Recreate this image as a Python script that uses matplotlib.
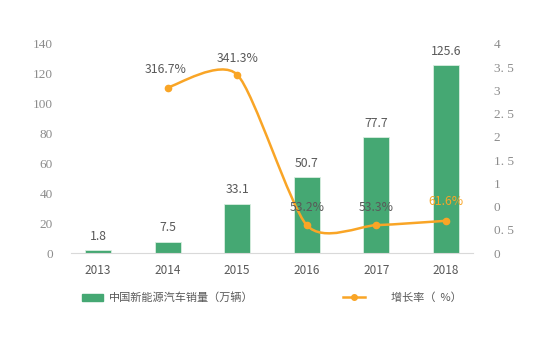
import numpy as np
import matplotlib.pyplot as plt
from matplotlib.path import Path
from matplotlib.patches import PathPatch, Patch
from matplotlib.lines import Line2D

plt.rcParams['font.family'] = ['Noto Sans CJK SC', 'DejaVu Sans']

years = ['2013', '2014', '2015', '2016', '2017', '2018']
sales = [1.8, 7.5, 33.1, 50.7, 77.7, 125.6]
rate_years = [1, 2, 3, 4, 5]
rate = [3.167, 3.413, 0.532, 0.533, 0.616]
rate_labels = ['316.7%', '341.3%', '53.2%', '53.3%', '61.6%']
left_ticks = [0, 20, 40, 60, 80, 100, 120, 140]
right_labels = ['0', '0. 5', '0', '1', '1. 5', '2', '2. 5', '3', '3. 5', '4']

green = '#45a873'
orange = '#f9a526'
gray = '#595959'
tick_gray = '#8c8c8c'

fig = plt.figure(figsize=(5.4, 3.6), dpi=100)
ax = fig.add_axes([71 / 540, 1 - 253 / 360, 402 / 540, 209 / 360])
ax2 = ax.twinx()

x = np.arange(len(years))
ax.bar(x, sales, width=0.37, color=green, edgecolor='#d8eee0', linewidth=0.6, zorder=2)
for xi, v in zip(x, sales):
    ax.text(xi, v + 5, f'{v}', ha='center', va='bottom', fontsize=8.8, color=gray)

ax.set_xlim(-0.39, 5.39)
ax.set_ylim(0, 140)
ax.set_yticks(left_ticks)
ax.set_yticklabels([str(t) for t in left_ticks], family='Liberation Serif', fontsize=9.5, color=tick_gray)
ax.set_xticks(x)
ax.set_xticklabels(years, fontsize=8.5, color=gray)
ax.tick_params(axis='both', length=0)
ax.tick_params(axis='y', pad=13)
ax.tick_params(axis='x', pad=8)
for s in ['top', 'left', 'right']:
    ax.spines[s].set_visible(False)
    ax2.spines[s].set_visible(False)
ax.spines['bottom'].set_color('#d9d9d9')
ax2.spines['bottom'].set_visible(False)

ax2.set_ylim(0, 4)
ax2.set_yticks(np.linspace(0, 4, 10))
ax2.set_yticklabels(right_labels, family='Liberation Serif', fontsize=9.5, color=tick_gray)
ax2.tick_params(axis='y', length=0, pad=15)

# smoothed line through the points (bezier segments)
px = np.array(rate_years, dtype=float)
py = np.array(rate, dtype=float)
k = 0.12
verts = [(px[0], py[0])]
codes = [Path.MOVETO]
n = len(px)
for i in range(n - 1):
    a = max(i - 1, 0)
    b = min(i + 2, n - 1)
    c1 = (px[i] + (px[i + 1] - px[a]) * k, py[i] + (py[i + 1] - py[a]) * k)
    c2 = (px[i + 1] - (px[b] - px[i]) * k, py[i + 1] - (py[b] - py[i]) * k)
    verts += [c1, c2, (px[i + 1], py[i + 1])]
    codes += [Path.CURVE4] * 3
ax2.add_patch(PathPatch(Path(verts, codes), fill=False, edgecolor=orange, linewidth=1.8, zorder=3))
ax2.plot(px, py, 'o', color=orange, markersize=4.5, zorder=4)

offsets = [(-0.03, 0.22), (0, 0.18), (0, 0.22), (0, 0.22), (0, 0.24)]
for i, (xi, yi, lab) in enumerate(zip(px, py, rate_labels)):
    c = orange if i == n - 1 else gray
    ax2.text(xi + offsets[i][0], yi + offsets[i][1], lab, ha='center', va='bottom', fontsize=8.8, color=c)

h1 = Patch(facecolor=green, edgecolor=green)
fig.legend([h1], ['中国新能源汽车销量（万辆）'], loc='center left', bbox_to_anchor=(82 / 540, 1 - 298 / 360),
           frameon=False, fontsize=8, handlelength=1.9, handletextpad=0.5, borderpad=0, borderaxespad=0,
           labelcolor=gray)
h2 = Line2D([], [], color=orange, marker='o', markersize=4, linewidth=1.8)
fig.legend([h2], ['增长率（  %）'], loc='center left', bbox_to_anchor=(343 / 540, 1 - 298 / 360),
           frameon=False, fontsize=8, handlelength=2.0, handletextpad=2.3, borderpad=0, borderaxespad=0,
           labelcolor=gray)

fig.savefig('out.png', dpi=100)
